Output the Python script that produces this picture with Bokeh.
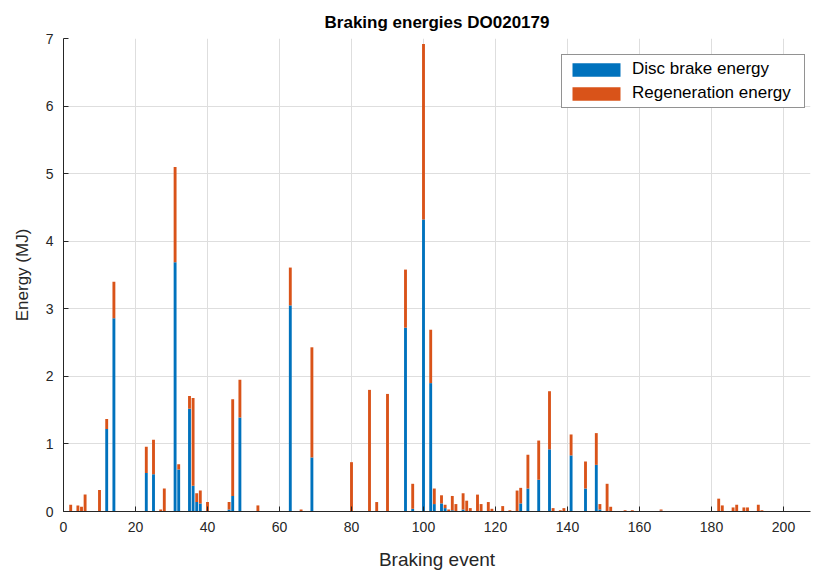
from bokeh.plotting import figure
from bokeh.models import ColumnDataSource, Range1d, FixedTicker, Title
from bokeh.embed import file_html
from bokeh.resources import INLINE

# Braking events with non-zero energy (event number, total energy, disc brake share) in MJ
events = [2, 4, 5, 6, 10, 12, 14, 23, 25, 27, 28, 31, 32, 35, 36, 37, 38, 40,
          46, 47, 49, 54, 63, 66, 69, 80, 85, 87, 90, 95, 97, 100, 102, 103,
          105, 106, 107, 108, 109, 111, 112, 113, 115, 116, 118, 119, 122, 124,
          126, 127, 129, 132, 135, 136, 138, 139, 141, 145, 148, 149, 151, 152,
          156, 158, 166, 182, 183, 186, 187, 189, 190, 193, 194]
disc_energy = [0.0, 0.0, 0.0, 0.0, 0.0, 1.22, 2.86, 0.57, 0.55, 0.0, 0.0, 3.69,
               0.62, 1.52, 0.38, 0.14, 0.12, 0.0, 0.03, 0.23, 1.39, 0.0, 3.05,
               0.0, 0.80, 0.0, 0.0, 0.0, 0.0, 2.72, 0.04, 4.32, 1.90, 0.11,
               0.12, 0.05, 0.0, 0.02, 0.0, 0.03, 0.0, 0.0, 0.0, 0.0, 0.0, 0.0,
               0.0, 0.0, 0.0, 0.12, 0.34, 0.47, 0.92, 0.0, 0.0, 0.0, 0.83, 0.34,
               0.69, 0.03, 0.0, 0.0, 0.0, 0.0, 0.01, 0.0, 0.0, 0.0, 0.0, 0.0,
               0.0, 0.0, 0.0]
total_energy = [0.10, 0.09, 0.07, 0.25, 0.32, 1.37, 3.40, 0.96, 1.06, 0.03, 0.34,
                5.10, 0.70, 1.71, 1.68, 0.27, 0.31, 0.14, 0.14, 1.66, 1.95, 0.09,
                3.61, 0.03, 2.43, 0.73, 1.80, 0.14, 1.74, 3.58, 0.41, 6.92, 2.69,
                0.34, 0.24, 0.10, 0.03, 0.23, 0.11, 0.27, 0.16, 0.05, 0.25, 0.11,
                0.14, 0.04, 0.08, 0.02, 0.31, 0.35, 0.84, 1.05, 1.78, 0.05, 0.02,
                0.05, 1.14, 0.74, 1.16, 0.11, 0.41, 0.07, 0.02, 0.02, 0.03, 0.19,
                0.09, 0.06, 0.10, 0.06, 0.06, 0.10, 0.02]
regen_energy = [round(t - d, 2) for t, d in zip(total_energy, disc_energy)]

x_ticks = [0, 20, 40, 60, 80, 100, 120, 140, 160, 180, 200]
y_ticks = [0, 1, 2, 3, 4, 5, 6, 7]
series_names = ["Disc brake energy", "Regeneration energy"]

BLUE = "#0072BD"
ORANGE = "#D95319"
AXIS = "#262626"
FONT = "Liberation Sans"

source = ColumnDataSource(dict(event=events, disc=disc_energy, regen=regen_energy))

p = figure(width=813, height=574, output_backend="svg", toolbar_location=None,
           x_range=Range1d(0, 207.5), y_range=Range1d(0, 7),
           min_border_left=63, min_border_right=3, min_border_top=38,
           min_border_bottom=63, outline_line_color=None,
           background_fill_color="white", border_fill_color="white")

p.add_layout(Title(text="Braking energies DO020179", align="center",
                   text_font=FONT, text_font_size="17px", text_font_style="bold",
                   text_color="#000000", standoff=14), "above")

p.vbar_stack(["disc", "regen"], x="event", width=0.8, color=[BLUE, ORANGE],
             line_color=None, source=source, legend_label=series_names)

for ax in (p.xaxis, p.yaxis):
    ax.axis_line_color = AXIS
    ax.major_tick_line_color = AXIS
    ax.major_tick_in = 5
    ax.major_tick_out = 0
    ax.minor_tick_line_color = None
    ax.major_label_text_font = FONT
    ax.major_label_text_font_size = "14px"
    ax.major_label_text_color = AXIS
    ax.axis_label_text_font = FONT
    ax.axis_label_text_font_style = "normal"
    ax.axis_label_text_color = AXIS

p.xaxis.ticker = FixedTicker(ticks=x_ticks)
p.yaxis.ticker = FixedTicker(ticks=y_ticks)
p.xaxis.axis_label = "Braking event"
p.yaxis.axis_label = "Energy (MJ)"
p.xaxis.axis_label_text_font_size = "19px"
p.yaxis.axis_label_text_font_size = "17px"
p.xaxis.major_label_standoff = 10
p.yaxis.major_label_standoff = 10
p.xaxis.axis_label_standoff = 14
p.yaxis.axis_label_standoff = 11

p.grid.grid_line_color = "#dedede"
p.grid.grid_line_width = 1

leg = p.legend[0]
leg.location = (498, 403)
leg.border_line_color = AXIS
leg.border_line_width = 1
leg.background_fill_color = "white"
leg.background_fill_alpha = 1
leg.glyph_width = 60
leg.glyph_height = 17
leg.label_standoff = 6
leg.label_height = 17
leg.label_width = 168
leg.padding = 4
leg.spacing = 4
leg.margin = 0
leg.label_text_font = FONT
leg.label_text_font_size = "17px"
leg.label_text_color = "#000000"

open("out.html", "w").write(file_html(p, INLINE))
